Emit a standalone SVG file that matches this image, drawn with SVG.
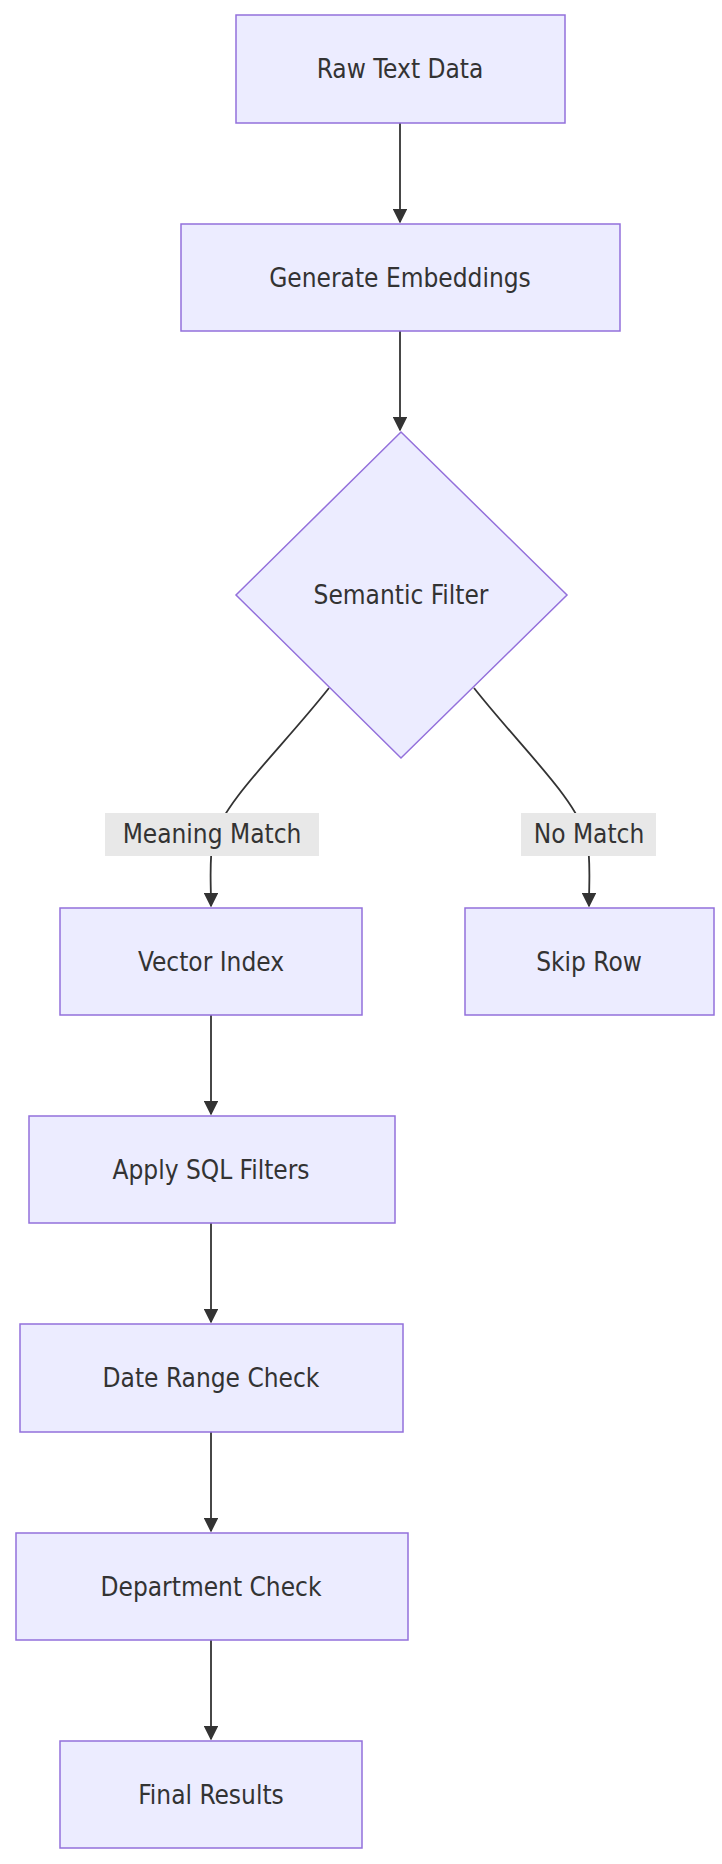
<svg xmlns="http://www.w3.org/2000/svg" width="722" height="1864" viewBox="0 0 722 1864">
<style>
.n{fill:#ececff;stroke:#9370db;stroke-width:1.5}
.t{font-family:"DejaVu Sans Condensed","DejaVu Sans",sans-serif;font-stretch:condensed;font-size:26px;fill:#333;text-anchor:middle;dominant-baseline:central}
.e{fill:none;stroke:#333;stroke-width:1.8}
.lb{fill:#e8e8e8}
</style>
<defs><marker id="a" viewBox="0 0 10 10" refX="9" refY="5" markerWidth="8" markerHeight="8" orient="auto"><path d="M0,0L10,5L0,10z" fill="#333"/></marker></defs>
<g id="edges">
<path class="e" d="M400,123V222" marker-end="url(#a)"/>
<path class="e" d="M400,331V430" marker-end="url(#a)"/>
<path class="e" d="M329,688C280,750 225,800 213,840C209,860 211,880 211,906" marker-end="url(#a)"/>
<path class="e" d="M474,688C523,750 578,800 587,840C591,860 589,880 589,906" marker-end="url(#a)"/>
<path class="e" d="M211,1015V1114" marker-end="url(#a)"/>
<path class="e" d="M211,1223V1322" marker-end="url(#a)"/>
<path class="e" d="M211,1432V1531" marker-end="url(#a)"/>
<path class="e" d="M211,1640V1739" marker-end="url(#a)"/>
<rect class="lb" x="105" y="813" width="214" height="43"/><text class="t" x="212" y="834">Meaning Match</text>
<rect class="lb" x="521" y="813" width="135" height="43"/><text class="t" x="589" y="834">No Match</text>
</g>
<g id="raw"><rect class="n" x="236" y="15" width="329" height="108"/><text class="t" x="400" y="69">Raw Text Data</text></g>
<g id="gen"><rect class="n" x="181" y="224" width="439" height="107"/><text class="t" x="400" y="278">Generate Embeddings</text></g>
<g id="sem"><polygon class="n" points="401,432 567,595 401,758 236,595"/><text class="t" x="401" y="595">Semantic Filter</text></g>
<g id="vec"><rect class="n" x="60" y="908" width="302" height="107"/><text class="t" x="211" y="962">Vector Index</text></g>
<g id="skip"><rect class="n" x="465" y="908" width="249" height="107"/><text class="t" x="589" y="962">Skip Row</text></g>
<g id="sql"><rect class="n" x="29" y="1116" width="366" height="107"/><text class="t" x="211" y="1170">Apply SQL Filters</text></g>
<g id="date"><rect class="n" x="20" y="1324" width="383" height="108"/><text class="t" x="211" y="1378">Date Range Check</text></g>
<g id="dept"><rect class="n" x="16" y="1533" width="392" height="107"/><text class="t" x="211" y="1587">Department Check</text></g>
<g id="final"><rect class="n" x="60" y="1741" width="302" height="107"/><text class="t" x="211" y="1795">Final Results</text></g>
</svg>
